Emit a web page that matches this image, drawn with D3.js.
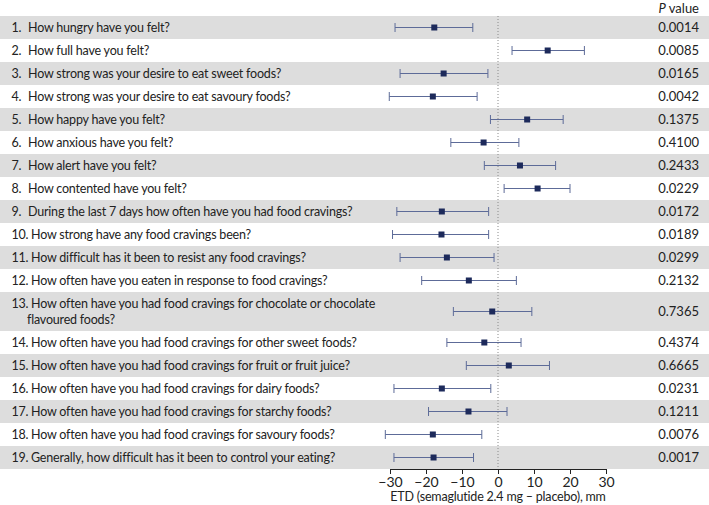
<!DOCTYPE html>
<html>
<head>
<meta charset="utf-8">
<script src="https://cdn.jsdelivr.net/npm/d3@7"></script>
<style>
  body { margin: 0; background: #fff; }
  text { font-family: Lato, "Noto Sans", sans-serif; fill: #222; }
  .q { font-size: 12.5px; letter-spacing: -0.2px; }
</style>
</head>
<body>
<svg id="chart" width="709" height="505"></svg>
<script>
// questions of the control of eating questionnaire (row 13 wraps onto 2 lines)
var questions = [
  "How hungry have you felt?",
  "How full have you felt?",
  "How strong was your desire to eat sweet foods?",
  "How strong was your desire to eat savoury foods?",
  "How happy have you felt?",
  "How anxious have you felt?",
  "How alert have you felt?",
  "How contented have you felt?",
  "During the last 7 days how often have you had food cravings?",
  "How strong have any food cravings been?",
  "How difficult has it been to resist any food cravings?",
  "How often have you eaten in response to food cravings?",
  "How often have you had food cravings for chocolate or chocolate\nflavoured foods?",
  "How often have you had food cravings for other sweet foods?",
  "How often have you had food cravings for fruit or fruit juice?",
  "How often have you had food cravings for dairy foods?",
  "How often have you had food cravings for starchy foods?",
  "How often have you had food cravings for savoury foods?",
  "Generally, how difficult has it been to control your eating?"
];
var etd    = [-17.7, 13.8, -15.1, -18.1, 8.1, -4.0, 6.1, 11.0, -15.6, -15.7, -14.2, -8.1, -1.6, -3.8, 3.0, -15.6, -8.2, -18.1, -17.9];
var ciLow  = [-28.6, 3.9, -27.2, -30.2, -2.1, -13.1, -3.8, 1.7, -28.1, -29.3, -27.2, -21.2, -12.4, -14.2, -8.8, -28.9, -19.3, -31.3, -28.9];
var ciHigh = [-7.0, 24.0, -2.8, -5.8, 18.1, 5.8, 16.0, 20.0, -2.6, -2.6, -1.1, 5.1, 9.4, 6.4, 14.3, -2.0, 2.5, -4.5, -6.8];
var pValues = ["0.0014", "0.0085", "0.0165", "0.0042", "0.1375", "0.4100", "0.2433", "0.0229", "0.0172", "0.0189",
               "0.0299", "0.2132", "0.7365", "0.4374", "0.6665", "0.0231", "0.1211", "0.0076", "0.0017"];
var xTicks = [-30, -20, -10, 0, 10, 20, 30];

var svg = d3.select("#chart");
var width = 709,
    topY = 16,
    rowH = 23,
    lineH = 16;

var x = d3.scaleLinear().domain([-30, 30]).range([390, 606]);

// work out row positions (wrapped rows are taller)
var rows = [];
var yy = topY;
questions.forEach(function(q, i) {
  var lines = q.split("\n");
  var h = rowH + (lines.length - 1) * lineH;
  rows.push({i: i, lines: lines, y: yy, h: h, mid: yy + h / 2});
  yy += h;
});
var bottomY = yy;

// alternating grey bands
svg.append("g").selectAll("rect")
    .data(rows.filter(function(d) { return d.i % 2 === 0; }))
  .enter().append("rect")
    .attr("x", 0)
    .attr("y", function(d) { return d.y; })
    .attr("width", width)
    .attr("height", function(d) { return d.h; })
    .attr("fill", "#dddddd");

// zero line
svg.append("line")
    .attr("x1", x(0)).attr("x2", x(0))
    .attr("y1", topY).attr("y2", bottomY)
    .attr("stroke", "#8a8a8a")
    .attr("stroke-width", 1)
    .attr("stroke-dasharray", "1,2");

// labels
var lab = svg.append("g").selectAll("g")
    .data(rows)
  .enter().append("g");

lab.append("text")
    .attr("class", "q")
    .attr("x", 11.5)
    .attr("y", function(d) { return d.mid - (d.lines.length - 1) * 8; })
    .attr("dy", "0.35em")
    .text(function(d) { return (d.i + 1) + "."; });

lab.each(function(d) {
  var g = d3.select(this);
  d.lines.forEach(function(t, k) {
    g.append("text")
        .attr("class", "q")
        .attr("x", k === 0 ? (d.i < 9 ? 28 : 31) : 27)
        .attr("y", d.mid - (d.lines.length - 1) * 8 + k * lineH)
        .attr("dy", "0.35em")
        .text(t);
  });
});

// p values
svg.append("text")
    .attr("x", 699).attr("y", 8)
    .attr("dy", "0.35em")
    .attr("text-anchor", "end")
    .style("font-size", "13px")
    .html('<tspan font-style="italic">P</tspan> value');

svg.append("g").selectAll("text")
    .data(rows)
  .enter().append("text")
    .attr("x", 699)
    .attr("y", function(d) { return d.mid; })
    .attr("dy", "0.35em")
    .attr("text-anchor", "end")
    .style("font-size", "13px")
    .text(function(d) { return pValues[d.i]; });

// error bars
var bars = svg.append("g").selectAll("g")
    .data(rows)
  .enter().append("g")
    .attr("stroke", "#5d6b98")
    .attr("stroke-width", 1);

bars.append("line")
    .attr("x1", function(d) { return x(ciLow[d.i]); })
    .attr("x2", function(d) { return x(ciHigh[d.i]); })
    .attr("y1", function(d) { return d.mid; })
    .attr("y2", function(d) { return d.mid; });

bars.append("line")
    .attr("x1", function(d) { return x(ciLow[d.i]); })
    .attr("x2", function(d) { return x(ciLow[d.i]); })
    .attr("y1", function(d) { return d.mid - 4.5; })
    .attr("y2", function(d) { return d.mid + 4.5; });

bars.append("line")
    .attr("x1", function(d) { return x(ciHigh[d.i]); })
    .attr("x2", function(d) { return x(ciHigh[d.i]); })
    .attr("y1", function(d) { return d.mid - 4.5; })
    .attr("y2", function(d) { return d.mid + 4.5; });

svg.append("g").selectAll("rect")
    .data(rows)
  .enter().append("rect")
    .attr("x", function(d) { return x(etd[d.i]) - 3; })
    .attr("y", function(d) { return d.mid - 3; })
    .attr("width", 6)
    .attr("height", 6)
    .attr("fill", "#1d2a5b");

// x axis
var axis = svg.append("g")
    .attr("transform", "translate(0," + bottomY + ")")
    .call(d3.axisBottom(x).tickValues(xTicks).tickSize(5).tickPadding(3));
axis.select(".domain").attr("stroke", "#222");
axis.selectAll(".tick line").attr("stroke", "#222");
axis.selectAll(".tick text")
    .style("font-family", "Lato, sans-serif")
    .style("font-size", "14px")
    .attr("fill", "#222");

svg.append("text")
    .attr("class", "q")
    .attr("x", x(0))
    .attr("y", 497)
    .attr("dy", "0.35em")
    .attr("text-anchor", "middle")
    .text("ETD (semaglutide 2.4 mg \u2013 placebo), mm");
</script>
</body>
</html>
